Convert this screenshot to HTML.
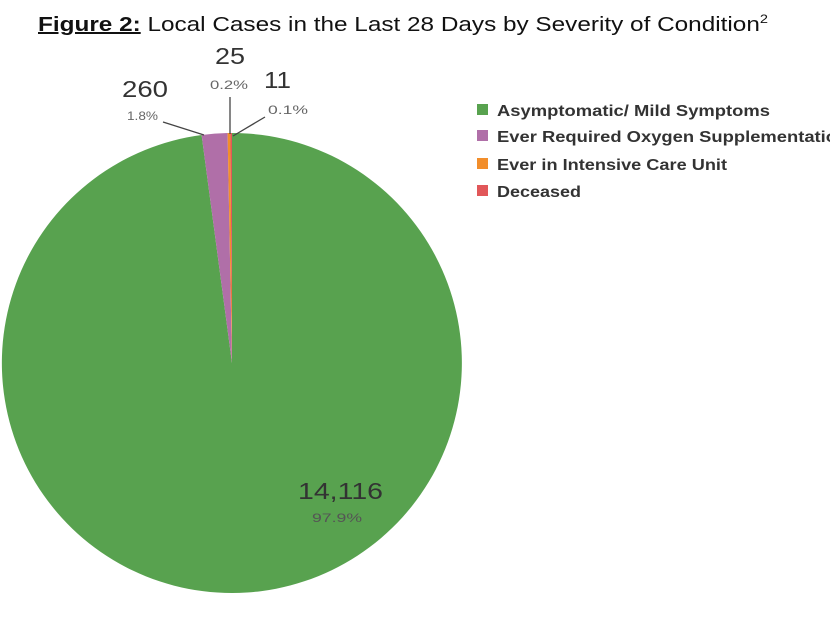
<!DOCTYPE html>
<html><head><style>
body{margin:0;background:#fff;width:830px;height:622px;overflow:hidden;font-family:"Liberation Sans",sans-serif;}
</style></head><body>
<svg width="830" height="622" xmlns="http://www.w3.org/2000/svg" style="position:absolute;left:0;top:0">
<text x="38" y="31" font-size="20" fill="#111" font-family="Liberation Sans, sans-serif" textLength="730" lengthAdjust="spacingAndGlyphs"><tspan font-weight="bold" text-decoration="underline">Figure 2:</tspan> Local Cases in the Last 28 Days by Severity of Condition<tspan font-size="12" dy="-8">2</tspan></text>
<path d="M232,363 L232,133 A230,230 0 1,1 201.6,135 Z" fill="#58a24f"/>
<path d="M232,363 L201.6,135 A230,230 0 0,1 227.6,133 Z" fill="#b06fa8"/>
<path d="M232,363 L227.6,133 A230,230 0 0,1 230.4,133 Z" fill="#f28e2b"/>
<path d="M232,363 L230.4,133 A230,230 0 0,1 232,133 Z" fill="#e15759"/>
<g stroke="#444" stroke-width="1.3" fill="none">
<path d="M163,122 L204,135"/>
<path d="M230,97 L230,134"/>
<path d="M265,117 L233,136"/>
</g>
<g font-family="Liberation Sans, sans-serif" fill="#333">
<text x="122" y="97" font-size="23" textLength="46" lengthAdjust="spacingAndGlyphs">260</text>
<text x="127" y="120" font-size="12" fill="#666" textLength="31" lengthAdjust="spacingAndGlyphs">1.8%</text>
<text x="215" y="64" font-size="23" textLength="30" lengthAdjust="spacingAndGlyphs">25</text>
<text x="210" y="89" font-size="12" fill="#666" textLength="38" lengthAdjust="spacingAndGlyphs">0.2%</text>
<text x="264" y="88" font-size="23" textLength="27" lengthAdjust="spacingAndGlyphs">11</text>
<text x="268" y="114" font-size="12" fill="#666" textLength="40" lengthAdjust="spacingAndGlyphs">0.1%</text>
<text x="298" y="499" font-size="23" textLength="85" lengthAdjust="spacingAndGlyphs">14,116</text>
<text x="312" y="522" font-size="12" fill="#555" textLength="50" lengthAdjust="spacingAndGlyphs">97.9%</text>
</g>
<g font-family="Liberation Sans, sans-serif" font-size="16" fill="#333" font-weight="bold">
<rect x="477" y="104" width="11" height="11" fill="#58a24f"/><text x="497" y="116" textLength="273" lengthAdjust="spacingAndGlyphs">Asymptomatic/ Mild Symptoms</text>
<rect x="477" y="130" width="11" height="11" fill="#b06fa8"/><text x="497" y="142" textLength="340" lengthAdjust="spacingAndGlyphs">Ever Required Oxygen Supplementatio</text>
<rect x="477" y="158" width="11" height="11" fill="#f28e2b"/><text x="497" y="170" textLength="230" lengthAdjust="spacingAndGlyphs">Ever in Intensive Care Unit</text>
<rect x="477" y="185" width="11" height="11" fill="#e15759"/><text x="497" y="197" textLength="84" lengthAdjust="spacingAndGlyphs">Deceased</text>
</g>
</svg>
</body></html>
